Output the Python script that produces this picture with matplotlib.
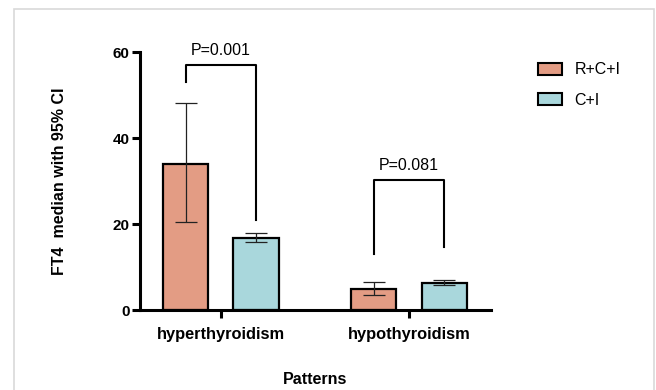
import numpy as np
import matplotlib.pyplot as plt
from matplotlib.patches import Rectangle, Patch

plt.rcParams['font.family'] = ['Liberation Sans', 'DejaVu Sans']

categories = ['hyperthyroidism', 'hypothyroidism']
groups = ['R+C+I', 'C+I']
medians = {'R+C+I': [34.0, 4.9], 'C+I': [16.7, 6.2]}
ci_low = {'R+C+I': [20.5, 3.6], 'C+I': [15.9, 5.8]}
ci_high = {'R+C+I': [48.1, 6.6], 'C+I': [18.0, 6.9]}
colors = {'R+C+I': '#E39C84', 'C+I': '#A9D7DC'}
p_labels = ['P=0.001', 'P=0.081']
bracket_top = [57, 30.2]
bracket_left = [53, 13.0]
bracket_right = [20.9, 14.7]

fig = plt.figure(figsize=(6.56, 3.9), dpi=100)
fig.patches.append(Rectangle((14 / 656, -0.05), 640 / 656, 1.05 - 9 / 390,
                             transform=fig.transFigure, fill=False,
                             edgecolor='#d9d9d9', linewidth=1.2))
ax = fig.add_axes([140 / 656, 1 - 310 / 390, 351 / 656, 258 / 390])

x = np.arange(len(categories))
offset = 0.187
width = 0.24
for i, g in enumerate(groups):
    xs = x + (-offset if i == 0 else offset)
    m = np.array(medians[g])
    lo = m - np.array(ci_low[g])
    hi = np.array(ci_high[g]) - m
    ax.bar(xs, m, width, color=colors[g], edgecolor='black', linewidth=1.6,
           label=g, zorder=2)
    ax.errorbar(xs, m, yerr=[lo, hi], fmt='none', ecolor='#222222',
                elinewidth=0.9, capsize=7.8, capthick=0.9, zorder=3)

for j in range(len(categories)):
    xl, xr = x[j] - offset, x[j] + offset
    ax.plot([xl, xl, xr, xr],
            [bracket_left[j], bracket_top[j], bracket_top[j], bracket_right[j]],
            color='black', linewidth=1.5, clip_on=False, zorder=4)
    ax.text(x[j], bracket_top[j] + 1.6, p_labels[j], ha='center', va='bottom',
            fontsize=11.5, clip_on=False)

ax.set_xlim(-0.43, 1.436)
ax.set_ylim(0, 60)
ax.set_yticks([0, 20, 40, 60])
ax.set_xticks(x)
ax.set_xticklabels(categories, fontweight='bold', fontsize=11.8)
for lab in ax.get_yticklabels():
    lab.set_fontweight('bold')
    lab.set_fontsize(11)
ax.tick_params(axis='both', width=2.2, length=5.5, pad=2)
ax.tick_params(axis='x', pad=7)
for s in ['top', 'right']:
    ax.spines[s].set_visible(False)
for s in ['left', 'bottom']:
    ax.spines[s].set_linewidth(2.2)

ax.set_ylabel('FT4  median with 95% CI', fontweight='bold', fontsize=11.5, labelpad=33)
fig.text(315 / 656, 1 - 380 / 390, 'Patterns', ha='center', va='center',
         fontweight='bold', fontsize=11.5)

handles = [Patch(facecolor=colors[g], edgecolor='black', linewidth=1.5) for g in groups]
fig.legend(handles, groups, loc='upper left', bbox_to_anchor=(524 / 656, 1 - 48 / 390),
           frameon=False, fontsize=11.5, handlelength=1.45, handleheight=0.75,
           labelspacing=0.95, handletextpad=0.8)

fig.savefig('out.png', dpi=100)
